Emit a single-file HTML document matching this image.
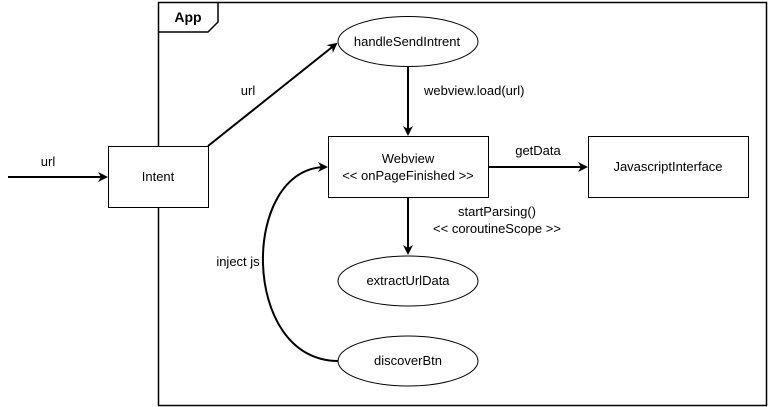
<!DOCTYPE html>
<html><head><style>
body{margin:0;background:#fff;}
svg{display:block;font-family:"Liberation Sans",Arial,sans-serif;font-size:13px;}
</style></head><body>
<svg width="769" height="407" viewBox="0 0 769 407">
<defs><marker id="a" markerWidth="10" markerHeight="10" refX="8" refY="5" orient="auto" markerUnits="userSpaceOnUse"><path d="M0,0 L10,5 L0,10 L3,5 Z" fill="#000"/></marker></defs>
<rect x="158.5" y="2.5" width="608" height="403" fill="none" stroke="#000" stroke-width="1.5"/>
<path d="M158.5,32 L208,32 L218,22 L218,2.5" fill="none" stroke="#000" stroke-width="1.5"/>
<text x="188" y="22" text-anchor="middle" font-weight="bold" font-size="14">App</text>
<g fill="#fff" stroke="#000" stroke-width="1">
<ellipse cx="408" cy="41.5" rx="70" ry="25"/>
<rect x="328.5" y="136.5" width="160" height="61"/>
<rect x="108.5" y="146.5" width="100" height="61"/>
<rect x="588.5" y="136.5" width="160" height="61"/>
<ellipse cx="408" cy="281" rx="70" ry="25"/>
<ellipse cx="408" cy="361" rx="70" ry="25"/>
</g>
<g fill="none" stroke="#000" stroke-width="2" marker-end="url(#a)">
<path d="M8,177 L106,177"/>
<path d="M208,146 L336,44"/>
<path d="M408,67 L408,134"/>
<path d="M488,167 L586,167"/>
<path d="M408,197 L408,253"/>
<path d="M338,361 C240,361 240,167 326,167"/>
</g>
<g text-anchor="middle">
<text x="407" y="46">handleSendIntrent</text>
<text x="408" y="163">Webview</text>
<text x="408" y="180">&lt;&lt; onPageFinished &gt;&gt;</text>
<text x="158" y="181">Intent</text>
<text x="668" y="171">JavascriptInterface</text>
<text x="408" y="285">extractUrlData</text>
<text x="408" y="365">discoverBtn</text>
<text x="48" y="166">url</text>
<text x="248" y="95">url</text>
<text x="538" y="155">getData</text>
<text x="497" y="216">startParsing()</text>
<text x="497" y="233">&lt;&lt; coroutineScope &gt;&gt;</text>
<text x="238" y="266">inject js</text>
</g>
<text x="424" y="95">webview.load(url)</text>
</svg>
</body></html>
